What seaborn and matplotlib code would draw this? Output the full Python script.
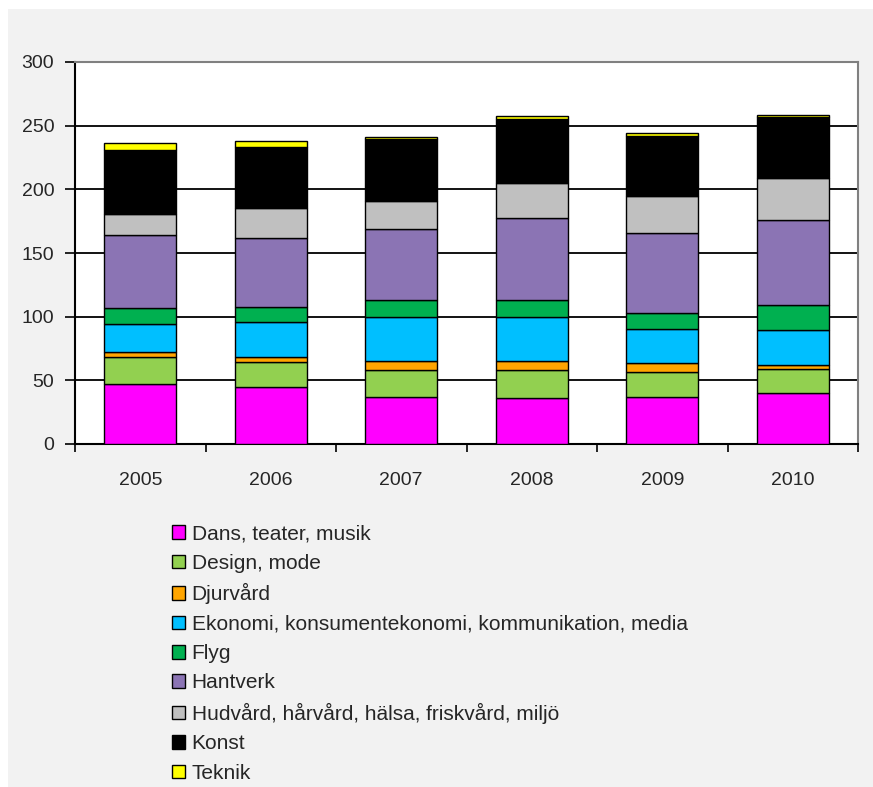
import matplotlib
matplotlib.use("Agg")
import matplotlib.pyplot as plt
from matplotlib.patches import Rectangle
import numpy as np
import pandas as pd
import seaborn as sns

years = ["2005", "2006", "2007", "2008", "2009", "2010"]

dans = [47, 44.5, 37, 36, 37, 40]
design = [21, 19.6, 21, 22, 19.6, 18.8]
djurvard = [4, 4, 7.3, 7.3, 7.3, 3.4]
ekonomi = [22.5, 28, 34.6, 34.6, 26.2, 27]
flyg = [12.5, 11.3, 12.8, 12.8, 12.8, 19.6]
hantverk = [57.5, 54.7, 56, 64.4, 63, 67.3]
hudvard = [16.5, 23, 22, 27.5, 28.8, 32.7]
konst = [50, 48.5, 48.7, 50.3, 47.4, 47.7]
teknik = [5, 4, 2, 3, 1.8, 1.8]

series = [
    ("Dans, teater, musik", dans, "#ff00ff"),
    ("Design, mode", design, "#92d050"),
    ("Djurvård", djurvard, "#ffa500"),
    ("Ekonomi, konsumentekonomi, kommunikation, media", ekonomi, "#00bfff"),
    ("Flyg", flyg, "#00b050"),
    ("Hantverk", hantverk, "#8b74b4"),
    ("Hudvård, hårvård, hälsa, friskvård, miljö", hudvard, "#c0c0c0"),
    ("Konst", konst, "#000000"),
    ("Teknik", teknik, "#ffff00"),
]

sns.set_style("white")
plt.rcParams["font.family"] = ["Liberation Sans", "DejaVu Sans"]

fig = plt.figure(figsize=(8.73, 7.87), dpi=100, facecolor="#f2f2f2")
# thin white strips at the left and top edges
fig.patches.append(Rectangle((0, 0), 8 / 873, 1, transform=fig.transFigure,
                             facecolor="white", edgecolor="none", zorder=-10))
fig.patches.append(Rectangle((0, 1 - 9 / 787), 1, 9 / 787, transform=fig.transFigure,
                             facecolor="white", edgecolor="none", zorder=-10))

ax = fig.add_axes([75 / 873, 1 - 444 / 787, 783 / 873, 382 / 787])
ax.set_facecolor("white")

bottom = np.zeros(len(years))
for name, vals, col in series:
    df = pd.DataFrame({"year": years, "value": vals})
    sns.barplot(data=df, x="year", y="value", bottom=bottom, color=col,
                width=0.55, edgecolor="black", linewidth=1.0, label=name,
                saturation=1, ax=ax, zorder=3)
    bottom = bottom + np.array(vals)

ax.set_ylim(0, 300)
ax.set_xlim(-0.5, 5.5)
ax.set_yticks(range(0, 301, 50))
ax.yaxis.grid(True, color="black", linewidth=1.3)
ax.set_axisbelow(True)
ax.set_xlabel("")
ax.set_ylabel("")
ax.tick_params(axis="y", length=7, width=1.2, color="black", labelsize=14, pad=8,
               direction="out", left=True)
ax.set_xticks(np.arange(-0.5, 6, 1), minor=True)
ax.tick_params(axis="x", which="minor", length=6, width=1.2, color="black", bottom=True)
ax.tick_params(axis="x", which="major", length=0, labelsize=14, pad=20)
for s in ["left", "bottom"]:
    ax.spines[s].set_color("black")
    ax.spines[s].set_linewidth(1.5)
for s in ["top", "right"]:
    ax.spines[s].set_color("#808080")
    ax.spines[s].set_linewidth(1.5)

handles, labels = ax.get_legend_handles_labels()
if ax.legend_:
    ax.legend_.remove()
fig.legend(handles, labels, loc="upper left", bbox_to_anchor=(164 / 873, 1 - 516 / 787),
           frameon=False, fontsize=15, handlelength=0.63, handleheight=0.63,
           handletextpad=0.3, labelspacing=0.5, borderaxespad=0)

fig.savefig("out.png", dpi=100, facecolor=fig.get_facecolor())
